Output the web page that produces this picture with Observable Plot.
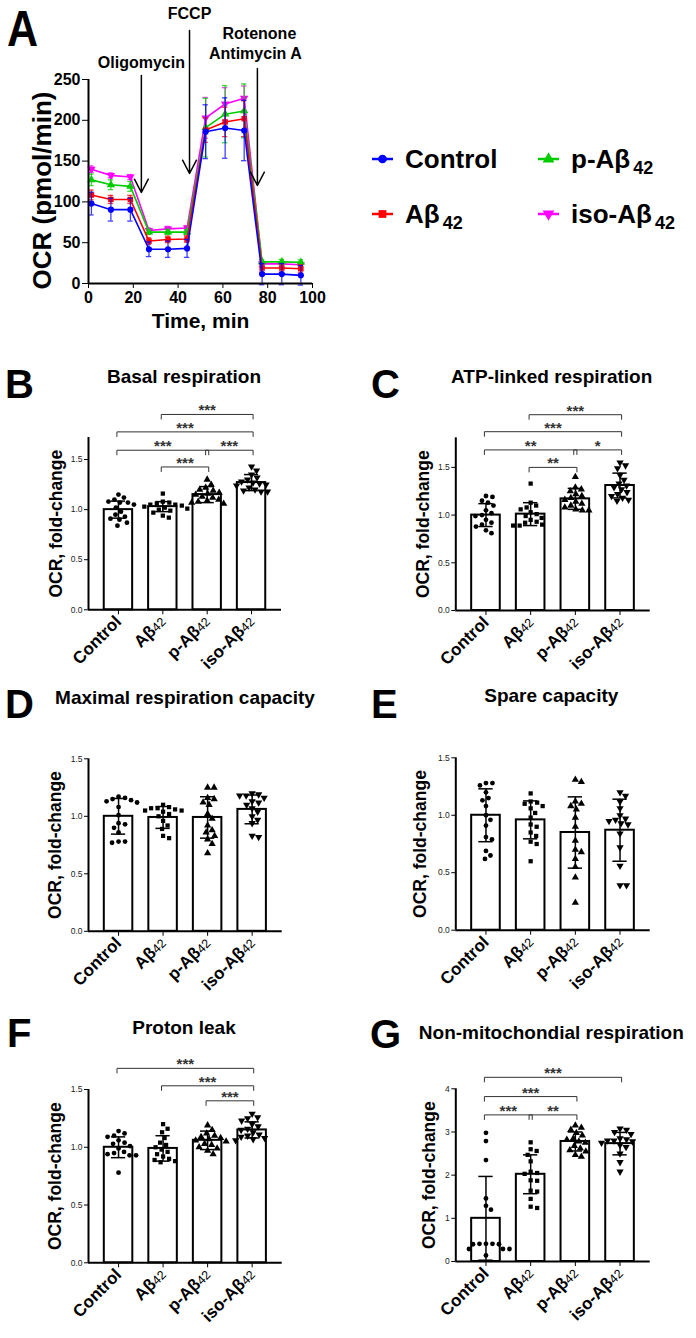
<!DOCTYPE html>
<html><head><meta charset="utf-8">
<script src="https://cdn.jsdelivr.net/npm/d3@7"></script>
<script src="https://cdn.jsdelivr.net/npm/@observablehq/plot@0.6"></script>
<style>
body{margin:0;background:#fff;font-family:"Liberation Sans",Arial,Helvetica,sans-serif;color:#000;}
#fig{position:relative;width:696px;height:1338px;overflow:hidden;background:#fff;}
.abs{position:absolute;line-height:1;white-space:nowrap;}
.letter{font-weight:bold;font-size:40px;}
.ptitle{font-weight:bold;font-size:19px;transform:translateX(-50%);}
.leg{font-weight:bold;font-size:26px;}
.leg sub{font-size:18px;vertical-align:baseline;position:relative;top:6px;margin-left:3px;}
svg{display:block;}
</style></head><body><div id="fig"></div>
<script>
const FONT = "'Liberation Sans', Arial, Helvetica, sans-serif";
// ---------------- shared categories ----------------
const groupBase = ["Control", "Aβ", "p-Aβ", "iso-Aβ"];
const groupSub  = ["", "42", "42", "42"];
const groupNames = groupBase.map((b, i) => b + groupSub[i]);
const seriesColors = ["#0000ff", "#ff0000", "#00cc00", "#ff00ff"];

// ---------------- Panel A: OCR time course ----------------
const timeMin = [1.3, 10, 18.7, 27, 35.5, 44, 52.3, 61, 69.5, 77.5, 86.3, 94.8];
const ocrControl = [98, 90.5, 90.5, 42, 42, 43, 186, 190.5, 187.5, 11.5, 11.5, 10];
const ocrAb42    = [108.5, 103, 103, 52, 54, 54.5, 188, 198, 202, 19, 19, 18];
const ocrPAb42   = [127, 121, 119, 63, 63, 63, 191, 207.5, 211.5, 26.5, 26.5, 26];
const ocrIsoAb42 = [140, 132.5, 130.5, 65, 67, 68, 203, 220, 227, 24, 24, 23];
const sdControl = [14, 14, 14, 9, 10, 11, 33, 37, 37, 13, 13, 12];
const sdAb42    = [6, 5, 5, 4, 4, 4, 15, 18, 22, 5, 5, 5];
const sdPAb42   = [7, 6, 6, 3, 3, 3, 36, 35, 33, 3, 3, 3];
const sdIsoAb42 = [4, 3, 3, 3, 3, 3, 25, 20, 15, 3, 3, 3];
const injections = ["Oligomycin", "FCCP", "Rotenone\nAntimycin A"];
const injectionTime = [23.6, 45.1, 75.4];

// ---------------- Panel B: Basal respiration ----------------
const basalMean = [1.00, 1.03, 1.15, 1.27];
const basalSD = [0.085, 0.05, 0.08, 0.08];
const basalControl = [1.15, 1.12, 1.10, 1.08, 1.07, 1.07, 1.05, 1.02, 0.98, 0.95, 0.93, 0.91, 0.90, 0.87, 0.84];
const basalAb42 = [1.16, 1.08, 1.07, 1.06, 1.05, 1.05, 1.04, 1.03, 1.02, 1.01, 1.00, 0.99, 0.97, 0.94, 0.92];
const basalPAb42 = [1.30, 1.25, 1.22, 1.20, 1.19, 1.17, 1.16, 1.15, 1.13, 1.12, 1.10, 1.09, 1.08, 1.07, 1.06];
const basalIsoAb42 = [1.43, 1.39, 1.35, 1.32, 1.30, 1.28, 1.27, 1.26, 1.25, 1.24, 1.22, 1.20, 1.19, 1.18, 1.18];
const basalPairs = [[1, 3], [0, 3], [0, 2], [2, 3], [1, 2]];
const basalLevels = [1.95, 1.776, 1.593, 1.593, 1.426];
const basalStars = ["***", "***", "***", "***", "***"];

// ---------------- Panel C: ATP-linked respiration ----------------
const atpMean = [1.00, 1.01, 1.17, 1.31];
const atpSD = [0.12, 0.12, 0.11, 0.13];
const atpControl = [1.20, 1.19, 1.15, 1.13, 1.10, 1.05, 1.02, 1.00, 0.99, 0.95, 0.92, 0.90, 0.88, 0.84, 0.81];
const atpAb42 = [1.33, 1.13, 1.10, 1.08, 1.06, 1.03, 1.01, 0.99, 0.97, 0.95, 0.93, 0.92, 0.90, 0.89, 0.89];
const atpPAb42 = [1.40, 1.29, 1.27, 1.25, 1.22, 1.20, 1.18, 1.16, 1.14, 1.12, 1.10, 1.08, 1.06, 1.05, 1.05];
const atpIsoAb42 = [1.55, 1.52, 1.49, 1.42, 1.37, 1.33, 1.31, 1.29, 1.27, 1.24, 1.22, 1.20, 1.18, 1.16, 1.15];
const atpPairs = [[1, 3], [0, 3], [0, 2], [2, 3], [1, 2]];
const atpLevels = [2.052, 1.874, 1.683, 1.683, 1.5];
const atpStars = ["***", "***", "**", "*", "**"];

// ---------------- Panel D: Maximal respiration capacity ----------------
const maxMean = [1.00, 0.99, 0.99, 1.06];
const maxSD = [0.155, 0.095, 0.18, 0.125];
const maxControl = [1.17, 1.16, 1.15, 1.14, 1.13, 1.12, 1.08, 1.01, 0.94, 0.93, 0.90, 0.86, 0.78, 0.78, 0.77];
const maxAb42 = [1.10, 1.08, 1.07, 1.07, 1.06, 1.05, 1.05, 1.04, 1.02, 1.00, 0.96, 0.92, 0.89, 0.83, 0.81];
const maxPAb42 = [1.25, 1.25, 1.16, 1.15, 1.12, 1.10, 1.02, 0.98, 0.92, 0.88, 0.86, 0.83, 0.80, 0.76, 0.68];
const maxIsoAb42 = [1.20, 1.19, 1.18, 1.18, 1.16, 1.13, 1.12, 1.10, 1.07, 1.04, 1.00, 0.97, 0.94, 0.82, 0.83];

// ---------------- Panel E: Spare capacity ----------------
const spareMean = [1.00, 0.96, 0.85, 0.87];
const spareSD = [0.23, 0.165, 0.31, 0.27];
const spareControl = [1.28, 1.28, 1.26, 1.20, 1.15, 1.13, 1.08, 1.00, 0.96, 0.91, 0.81, 0.79, 0.69, 0.65, 0.62];
const spareAb42 = [1.19, 1.12, 1.11, 1.10, 1.08, 1.06, 1.02, 0.98, 0.92, 0.90, 0.85, 0.82, 0.77, 0.75, 0.60];
const sparePAb42 = [1.31, 1.29, 1.12, 1.10, 1.08, 1.05, 0.98, 0.90, 0.78, 0.70, 0.68, 0.62, 0.55, 0.46, 0.24];
const spareIsoAb42 = [1.20, 1.17, 1.12, 1.06, 1.00, 0.97, 0.96, 0.95, 0.93, 0.92, 0.84, 0.72, 0.56, 0.39, 0.39];

// ---------------- Panel F: Proton leak ----------------
const leakMean = [1.00, 0.99, 1.06, 1.15];
const leakSD = [0.09, 0.11, 0.08, 0.07];
const leakControl = [1.14, 1.12, 1.10, 1.09, 1.06, 1.04, 1.03, 1.01, 0.99, 0.96, 0.95, 0.94, 0.93, 0.93, 0.78];
const leakAb42 = [1.20, 1.16, 1.13, 1.08, 1.04, 1.02, 1.00, 0.98, 0.96, 0.94, 0.92, 0.90, 0.89, 0.88, 0.87];
const leakPAb42 = [1.19, 1.15, 1.12, 1.10, 1.09, 1.08, 1.07, 1.06, 1.05, 1.03, 1.02, 1.00, 0.99, 0.97, 0.94];
const leakIsoAb42 = [1.29, 1.26, 1.25, 1.23, 1.20, 1.18, 1.16, 1.15, 1.13, 1.11, 1.10, 1.09, 1.08, 1.07, 1.06];
const leakPairs = [[0, 3], [1, 3], [2, 3]];
const leakLevels = [1.683, 1.532, 1.402];
const leakStars = ["***", "***", "***"];

// ---------------- Panel G: Non-mitochondial respiration ----------------
const nonMean = [1.00, 2.02, 2.78, 2.73];
const nonSD = [0.97, 0.45, 0.22, 0.26];
const nonControl = [2.98, 2.79, 2.35, 1.46, 1.29, 1.20, 0.41, 0.41, 0.41, 0.40, 0.40, 0.29, 0.29, 0.29, 0.14];
const nonAb42 = [2.76, 2.60, 2.56, 2.47, 2.32, 2.08, 2.05, 2.03, 1.88, 1.87, 1.64, 1.62, 1.45, 1.27, 1.24];
const nonPAb42 = [3.15, 3.10, 3.05, 2.98, 2.92, 2.85, 2.82, 2.78, 2.75, 2.68, 2.62, 2.58, 2.55, 2.47, 2.43];
const nonIsoAb42 = [3.08, 3.05, 3.00, 2.95, 2.85, 2.83, 2.80, 2.80, 2.78, 2.75, 2.70, 2.65, 2.50, 2.30, 2.08];
const nonPairs = [[0, 3], [0, 2], [0, 1], [1, 2]];
const nonLevels = [4.266, 3.82, 3.396, 3.396];
const nonStars = ["***", "***", "***", "**"];

// ---------------- helpers ----------------
const fig = document.getElementById("fig");
function place(el, left, top) {
  const d = document.createElement("div");
  d.className = "abs"; d.style.left = left + "px"; d.style.top = top + "px";
  d.appendChild(el); fig.appendChild(d); return d;
}
function htmlText(cls, txt, left, baseline, size, extra) {
  const d = document.createElement("div");
  d.className = "abs " + cls; d.textContent = txt;
  d.style.left = left + "px"; d.style.top = (baseline - 0.8465 * size) + "px";
  if (extra) Object.assign(d.style, extra);
  fig.appendChild(d); return d;
}
const triDown = {draw(ctx, size) {
  const s3 = Math.sqrt(3), y = -Math.sqrt(size / (s3 * 3));
  ctx.moveTo(0, -y * 2); ctx.lineTo(-s3 * y, y); ctx.lineTo(s3 * y, y); ctx.closePath();
}};
const groupSymbols = ["circle", "square", "triangle", triDown];
const d3Symbols = [d3.symbolCircle, d3.symbolSquare, d3.symbolTriangle, triDown];

function swarm(vals, ky, r) {
  const idx = d3.range(vals.length).sort((a, b) => d3.descending(vals[a], vals[b]));
  const placed = [], off = new Array(vals.length).fill(0), d = 2 * r + 1.2;
  for (const i of idx) {
    const py = vals[i] * ky;
    let best = 0;
    for (let k = 0; k < 400; k++) {
      const o = (k % 2 === 1 ? 1 : -1) * Math.ceil(k / 2) * 0.5;
      if (placed.every(p => (p.x - o) ** 2 + (p.y - py) ** 2 >= d * d)) { best = o; break; }
    }
    off[i] = best; placed.push({x: best, y: py});
  }
  return off;
}
function addSubscripts(svg, size) {
  svg.querySelectorAll('[aria-label="x-axis tick label"] text').forEach(t => {
    const s = t.textContent;
    const i = groupNames.indexOf(s);
    if (i < 0 || !groupSub[i]) return;
    t.textContent = groupBase[i];
    const ts = document.createElementNS("http://www.w3.org/2000/svg", "tspan");
    ts.textContent = groupSub[i];
    ts.setAttribute("font-weight", "normal");
    ts.setAttribute("font-size", size);
    ts.setAttribute("fill", "#000");
    t.appendChild(ts);
  });
}

function barPanel(c) {
  const xd = [-0.675, 3.675];
  const innerW = c.width - c.ml - c.mr, innerH = c.height - c.mt - c.mb;
  const kx = innerW / (xd[1] - xd[0]), ky = innerH / c.ymax;
  const bars = c.means.map((m, i) => ({i, mean: m, sd: c.sds[i]}));
  const dots = [];
  c.points.forEach((vals, i) => {
    const offs = swarm(vals, ky, 2.5);
    vals.forEach((v, j) => dots.push({i, v, x: i + offs[j] / kx}));
  });
  const drop = 5 / ky, e = 0.035;
  const br = (c.pairs || []).map(([a, b], k) => ({a: a - e, b: b + e, level: c.levels[k], label: c.stars[k]}));
  const links = br.flatMap(d => [
    {x1: d.a, x2: d.b, y1: d.level, y2: d.level},
    {x1: d.a, x2: d.a, y1: d.level, y2: d.level - drop},
    {x1: d.b, x2: d.b, y1: d.level, y2: d.level - drop}
  ]);
  const svg = Plot.plot({
    width: c.width, height: c.height,
    marginLeft: c.ml, marginRight: c.mr, marginTop: c.mt, marginBottom: c.mb,
    style: {fontFamily: FONT, background: "transparent", overflow: "visible", color: "black"},
    x: {domain: xd}, y: {domain: [0, c.ymax]},
    marks: [
      Plot.rectY(bars, {x1: d => d.i - 0.32, x2: d => d.i + 0.32, y1: 0, y2: "mean", fill: "white", stroke: "black", strokeWidth: 2}),
      ...[0, 1, 2, 3].map(g => Plot.dot(dots.filter(d => d.i === g), {x: "x", y: "v", r: g >= 2 ? 2.7 : 2.4, symbol: groupSymbols[g], fill: "black"})),
      Plot.ruleX(bars, {x: "i", y1: d => d.mean - d.sd, y2: d => d.mean + d.sd, strokeWidth: 1.5}),
      Plot.ruleY(bars, {x1: d => d.i - 0.16, x2: d => d.i + 0.16, y: d => d.mean + d.sd, strokeWidth: 1.5}),
      Plot.ruleY(bars, {x1: d => d.i - 0.16, x2: d => d.i + 0.16, y: d => d.mean - d.sd, strokeWidth: 1.5}),
      Plot.link(links, {x1: "x1", x2: "x2", y1: "y1", y2: "y2", stroke: "#333", strokeWidth: 1}),
      Plot.text(br, {x: d => (d.a + d.b) / 2, y: "level", text: "label", lineAnchor: "bottom", dy: 1, fontSize: 15, fontWeight: "bold", fill: "#333"}),
      Plot.ruleX([xd[0]], {y1: 0, y2: c.ymax, strokeWidth: 2}),
      Plot.ruleY([0], {x1: xd[0], x2: xd[1], strokeWidth: 2}),
      Plot.axisY({ticks: c.yticks, tickFormat: c.yfmt, tickSize: 4, tickPadding: 2, fontSize: 8.5, label: null, fill: "#222"}),
      Plot.axisX({ticks: [0, 1, 2, 3], tickFormat: i => groupNames[i], tickRotate: -45, tickSize: 5, tickPadding: 4, fontSize: 17, fontWeight: "bold", label: null}),
      Plot.text(["OCR, fold-change"], {frameAnchor: "left", textAnchor: "middle", lineAnchor: "middle", rotate: -90, dx: -c.ylo, fontSize: 17.5, fontWeight: "bold"})
    ]
  });
  addSubscripts(svg, 12.5);
  place(svg, c.left, c.top);
}

// ---------------- Panel A ----------------
(function () {
  const series = [
    [ocrControl, sdControl], [ocrAb42, sdAb42], [ocrPAb42, sdPAb42], [ocrIsoAb42, sdIsoAb42]
  ];
  const order = [3, 2, 1, 0];
  const marks = [];
  for (const s of order) {
    const rows = timeMin.map((t, k) => ({t, v: series[s][0][k], e: series[s][1][k]}));
    const col = seriesColors[s];
    marks.push(
      Plot.ruleX(rows, {x: "t", y1: d => d.v - d.e, y2: d => d.v + d.e, stroke: col, strokeWidth: 1.3, strokeOpacity: 0.75}),
      Plot.ruleY(rows, {x1: d => d.t - 1.2, x2: d => d.t + 1.2, y: d => d.v + d.e, stroke: col, strokeWidth: 1.3, strokeOpacity: 0.75}),
      Plot.ruleY(rows, {x1: d => d.t - 1.2, x2: d => d.t + 1.2, y: d => d.v - d.e, stroke: col, strokeWidth: 1.3, strokeOpacity: 0.75}),
      Plot.line(rows, {x: "t", y: "v", stroke: col, strokeWidth: 1.6}),
      Plot.dot(rows, {x: "t", y: "v", symbol: groupSymbols[s], r: 3.1, fill: col})
    );
  }
  const ann = [
    {x: injectionTime[0], y: 263.5, text: injections[0]},
    {x: injectionTime[1], y: 324.4, text: injections[1]},
    {x: 76.3, y: 299.9, text: "Rotenone"},
    {x: 74.5, y: 275.4, text: "Antimycin A"}
  ];
  const arrows = [
    {x: injectionTime[0], y1: 254.9, y2: 111.5},
    {x: injectionTime[1], y1: 310, y2: 134.8},
    {x: injectionTime[2], y1: 263.5, y2: 120.1}
  ];
  const svg = Plot.plot({
    width: 330, height: 340, marginLeft: 88, marginRight: 18, marginTop: 79, marginBottom: 57,
    style: {fontFamily: FONT, background: "transparent", overflow: "visible", color: "black"},
    x: {domain: [0, 100]}, y: {domain: [0, 250]},
    marks: [
      ...marks,
      Plot.ruleY([0], {x1: 0, x2: 100, strokeWidth: 2}),
      Plot.ruleX([0], {y1: 0, y2: 250, strokeWidth: 2}),
      Plot.axisX({ticks: [0, 20, 40, 60, 80, 100], tickSize: 5, tickPadding: 3, fontSize: 16, fontWeight: "bold", label: null}),
      Plot.axisY({ticks: [0, 50, 100, 150, 200, 250], tickSize: 6, tickPadding: 2, fontSize: 16, fontWeight: "bold", label: null}),
      Plot.arrow(arrows, {x: "x", y1: "y1", y2: "y2", headAngle: 55, headLength: 15, strokeWidth: 1.5, stroke: "black"}),
      Plot.text(ann, {x: "x", y: "y", text: "text", lineAnchor: "bottom", fontSize: 16, fontWeight: "bold"}),
      Plot.text(["OCR (pmol/min)"], {frameAnchor: "left", textAnchor: "middle", lineAnchor: "middle", rotate: -90, dx: -46, dy: 9, fontSize: 26, fontWeight: "bold"}),
      Plot.text(["Time, min"], {frameAnchor: "bottom", textAnchor: "middle", lineAnchor: "bottom", dy: 44, fontSize: 21, fontWeight: "bold"})
    ]
  });
  place(svg, 0, 0);
  htmlText("letter", "A", 7, 46, 50, {transform: "scaleX(0.86)", transformOrigin: "left", fontSize: "50px"});
})();

// ---------------- Legend ----------------
(function () {
  const pos = [[372, 159], [372, 214], [538, 159], [538, 214]];
  groupNames.forEach((n, i) => {
    const [x, y] = pos[i];
    const s = d3.select(document.createElementNS("http://www.w3.org/2000/svg", "svg")).attr("width", 22).attr("height", 14);
    s.append("line").attr("x1", 0).attr("x2", 21).attr("y1", 7).attr("y2", 7).attr("stroke", seriesColors[i]).attr("stroke-width", 2.5);
    s.append("path").attr("transform", "translate(10.5,7)").attr("d", d3.symbol(d3Symbols[i], 60)()).attr("fill", seriesColors[i]);
    place(s.node(), x, y - 7);
    const t = htmlText("leg", "", x + 33, y + 9, 26);
    t.textContent = groupBase[i];
    if (groupSub[i]) { const sb = document.createElement("sub"); sb.textContent = groupSub[i]; t.appendChild(sb); }
  });
})();

// ---------------- Bar panels ----------------
const yfmt1 = d3.format(".1f");
barPanel({left: 0, top: 395, width: 348, height: 290, ml: 88, mr: 67, mt: 42, mb: 75.7, ymax: 1.72,
  yticks: [0, 0.5, 1, 1.5], yfmt: yfmt1, ylo: 32,
  means: basalMean, sds: basalSD, points: [basalControl, basalAb42, basalPAb42, basalIsoAb42],
  pairs: basalPairs, levels: basalLevels, stars: basalStars});
barPanel({left: 348, top: 395, width: 348, height: 290, ml: 107.3, mr: 46.3, mt: 42.3, mb: 75, ymax: 1.81,
  yticks: [0, 0.5, 1, 1.5], yfmt: yfmt1, ylo: 32,
  means: atpMean, sds: atpSD, points: [atpControl, atpAb42, atpPAb42, atpIsoAb42],
  pairs: atpPairs, levels: atpLevels, stars: atpStars});
barPanel({left: 0, top: 720, width: 348, height: 290, ml: 88, mr: 66.3, mt: 38.3, mb: 79.2, ymax: 1.5,
  yticks: [0, 0.5, 1, 1.5], yfmt: yfmt1, ylo: 33,
  means: maxMean, sds: maxSD, points: [maxControl, maxAb42, maxPAb42, maxIsoAb42]});
barPanel({left: 348, top: 720, width: 348, height: 290, ml: 107.3, mr: 46.3, mt: 37.3, mb: 80.3, ymax: 1.5,
  yticks: [0, 0.5, 1, 1.5], yfmt: yfmt1, ylo: 35,
  means: spareMean, sds: spareSD, points: [spareControl, spareAb42, sparePAb42, spareIsoAb42]});
barPanel({left: 0, top: 1045, width: 348, height: 293, ml: 88, mr: 66.3, mt: 44, mb: 75.7, ymax: 1.5,
  yticks: [0, 0.5, 1, 1.5], yfmt: yfmt1, ylo: 33,
  means: leakMean, sds: leakSD, points: [leakControl, leakAb42, leakPAb42, leakIsoAb42],
  pairs: leakPairs, levels: leakLevels, stars: leakStars});
barPanel({left: 348, top: 1045, width: 348, height: 293, ml: 107.3, mr: 46.3, mt: 43.3, mb: 77, ymax: 4,
  yticks: [0, 1, 2, 3, 4], yfmt: d3.format("d"), ylo: 26,
  means: nonMean, sds: nonSD, points: [nonControl, nonAb42, nonPAb42, nonIsoAb42],
  pairs: nonPairs, levels: nonLevels, stars: nonStars});

// ---------------- Panel letters and titles ----------------
const letters = [["B", 5, 398], ["C", 371, 398], ["D", 5, 718], ["E", 371, 718], ["F", 7, 1047], ["G", 370, 1048]];
letters.forEach(([t, x, b]) => htmlText("letter", t, x, b, 40));
const titles = [["Basal respiration", 184, 383], ["ATP-linked respiration", 551.7, 383],
  ["Maximal respiration capacity", 185, 704], ["Spare capacity", 551.3, 702.5],
  ["Proton leak", 184, 1034], ["Non-mitochondial respiration", 551.3, 1039]];
titles.forEach(([t, x, b]) => htmlText("ptitle", t, x, b, 19));
</script></body></html>
